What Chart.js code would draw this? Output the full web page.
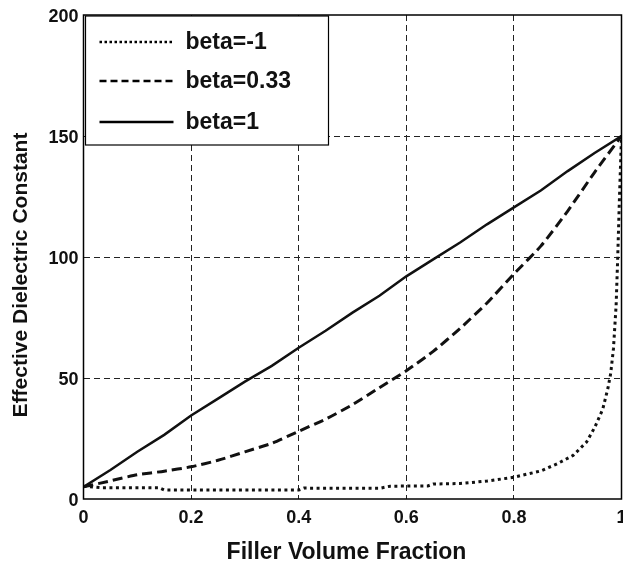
<!DOCTYPE html>
<html>
<head>
<meta charset="utf-8">
<script src="https://cdn.jsdelivr.net/npm/chart.js@4/dist/chart.umd.min.js"></script>
<style>
  html, body { margin: 0; padding: 0; background: #fff; }
  #wrap { width: 623px; height: 563px; position: relative; }
</style>
</head>
<body>
<div id="wrap"><canvas id="c" width="623" height="563"></canvas></div>
<script>
// ---- data ----
const seriesLabels = ['beta=-1', 'beta=0.33', 'beta=1'];

const betaM1X = [0, 0.03, 0.14, 0.15, 0.40, 0.41, 0.55, 0.57, 0.64, 0.65, 0.70, 0.75, 0.80, 0.85, 0.88, 0.91, 0.935, 0.95, 0.965, 0.975, 0.98, 0.985, 0.99, 0.993, 0.996, 1.0];
const betaM1Y = [5.3, 4.7, 4.7, 3.7, 3.7, 4.5, 4.4, 5.3, 5.4, 6.2, 6.4, 7.4, 9.0, 11.6, 14.5, 18.0, 23.5, 29.5, 37.0, 46.0, 52.0, 62.0, 80.0, 100.0, 123.0, 150.0];

const beta033X = [0, 0.05, 0.10, 0.15, 0.20, 0.25, 0.30, 0.35, 0.40, 0.45, 0.50, 0.55, 0.60, 0.65, 0.70, 0.75, 0.80, 0.85, 0.90, 0.95, 1.0];
const beta033Y = [5, 7.5, 10, 11.5, 13.3, 16, 19.5, 23, 28, 33, 39, 46, 53, 61, 70.5, 81, 93, 104.5, 119, 135, 150];

const beta1X = [0, 0.05, 0.10, 0.15, 0.20, 0.25, 0.30, 0.35, 0.40, 0.45, 0.50, 0.55, 0.60, 0.65, 0.70, 0.75, 0.80, 0.85, 0.90, 0.95, 1.0];
const beta1Y = [5, 12, 19.5, 26.5, 34.5, 41.5, 48.5, 55, 62.5, 69.5, 77, 84, 92, 99, 106, 113.5, 120.5, 127.5, 135.5, 143, 150];

const xTickValues = [0, 0.2, 0.4, 0.6, 0.8, 1];
const xTickLabels = ['0', '0.2', '0.4', '0.6', '0.8', '1'];
const yTickValues = [0, 50, 100, 150, 200];
const yTickLabels = ['0', '50', '100', '150', '200'];

const xTitle = 'Filler Volume Fraction';
const yTitle = 'Effective Dielectric Constant';

// ---- build ----
function pts(xs, ys) { return xs.map((x, i) => ({ x: x, y: ys[i] })); }

const FONT = '"Liberation Sans", Arial, Helvetica, sans-serif';

const dashStyles = [[3, 3.5], [10, 5], []];
const legendDash = [[2.5, 2.5], [7, 4], []];

const frameAndLegend = {
  id: 'frameAndLegend',
  afterDatasetsDraw(chart) {
    const ctx = chart.ctx;
    const a = chart.chartArea;
    ctx.save();
    // legend box
    const bx = a.left + 2, by = a.top + 1, bw = 243, bh = 129;
    ctx.fillStyle = '#fff';
    ctx.fillRect(bx, by, bw, bh);
    ctx.strokeStyle = '#000';
    ctx.lineWidth = 1.2;
    ctx.strokeRect(bx, by, bw, bh);
    const rows = [27, 66, 107];
    chart.data.datasets.forEach((ds, i) => {
      const y = a.top + rows[i];
      ctx.beginPath();
      ctx.setLineDash(legendDash[i]);
      ctx.lineWidth = 2.5;
      ctx.strokeStyle = '#000';
      ctx.moveTo(a.left + 16, y);
      ctx.lineTo(a.left + 90, y);
      ctx.stroke();
      ctx.setLineDash([]);
      ctx.fillStyle = '#111';
      ctx.font = 'bold 23px ' + FONT;
      ctx.textBaseline = 'middle';
      ctx.textAlign = 'left';
      ctx.fillText(ds.label, a.left + 102, y + 1);
    });
    // frame
    ctx.setLineDash([]);
    ctx.lineWidth = 1.5;
    ctx.strokeStyle = '#000';
    ctx.strokeRect(a.left, a.top, a.right - a.left, a.bottom - a.top);

    // axis titles
    ctx.fillStyle = '#111';
    ctx.textAlign = 'center';
    ctx.textBaseline = 'alphabetic';
    ctx.font = 'bold 23px ' + FONT;
    ctx.fillText(xTitle, (a.left + a.right) / 2 - 6, 559);
    ctx.save();
    ctx.translate(27, (a.top + a.bottom) / 2 + 18);
    ctx.rotate(-Math.PI / 2);
    ctx.font = 'bold 21px ' + FONT;
    ctx.fillText(yTitle, 0, 0);
    ctx.restore();
    ctx.restore();
  }
};

const gridColor = (ctx) => {
  const v = ctx.tick ? ctx.tick.value : null;
  const s = ctx.scale;
  if (v === s.min || v === s.max) return 'rgba(0,0,0,0)';
  return '#222';
};

new Chart(document.getElementById('c'), {
  type: 'line',
  data: {
    datasets: [
      { label: seriesLabels[0], data: pts(betaM1X, betaM1Y), borderColor: '#111', borderWidth: 3, borderDash: dashStyles[0], pointRadius: 0, fill: false, tension: 0 },
      { label: seriesLabels[1], data: pts(beta033X, beta033Y), borderColor: '#111', borderWidth: 3, borderDash: dashStyles[1], pointRadius: 0, fill: false, tension: 0.2 },
      { label: seriesLabels[2], data: pts(beta1X, beta1Y), borderColor: '#111', borderWidth: 2.5, borderDash: dashStyles[2], pointRadius: 0, fill: false, tension: 0 }
    ]
  },
  options: {
    responsive: false,
    animation: false,
    devicePixelRatio: 1,
    layout: { padding: { top: 15, right: 1.5, left: 0, bottom: 0 } },
    plugins: { legend: { display: false }, tooltip: { enabled: false } },
    scales: {
      x: {
        type: 'linear', min: 0, max: 1,
        afterBuildTicks(scale) { scale.ticks = xTickValues.map(v => ({ value: v })); },
        afterFit(scale) { scale.height = 64; scale.paddingLeft = 0; scale.paddingRight = 0; },
        ticks: {
          color: '#111', padding: 8,
          font: { family: FONT, size: 18, weight: 'bold' },
          callback: (v) => { const i = xTickValues.indexOf(v); return i >= 0 ? xTickLabels[i] : ''; },
          maxRotation: 0
        },
        grid: { color: gridColor, lineWidth: 1, drawTicks: false },
        border: { display: false, dash: [6, 4] },
        title: { display: false }
      },
      y: {
        type: 'linear', min: 0, max: 200,
        afterBuildTicks(scale) { scale.ticks = yTickValues.map(v => ({ value: v })); },
        afterFit(scale) { scale.width = 83.5; scale.paddingTop = 0; scale.paddingBottom = 0; },
        ticks: {
          color: '#111', padding: 5, labelOffset: 2.5,
          font: { family: FONT, size: 18, weight: 'bold' },
          callback: (v) => { const i = yTickValues.indexOf(v); return i >= 0 ? yTickLabels[i] : ''; }
        },
        grid: { color: gridColor, lineWidth: 1, drawTicks: false },
        border: { display: false, dash: [6, 4] },
        title: { display: false }
      }
    }
  },
  plugins: [frameAndLegend]
});
</script>
</body>
</html>
